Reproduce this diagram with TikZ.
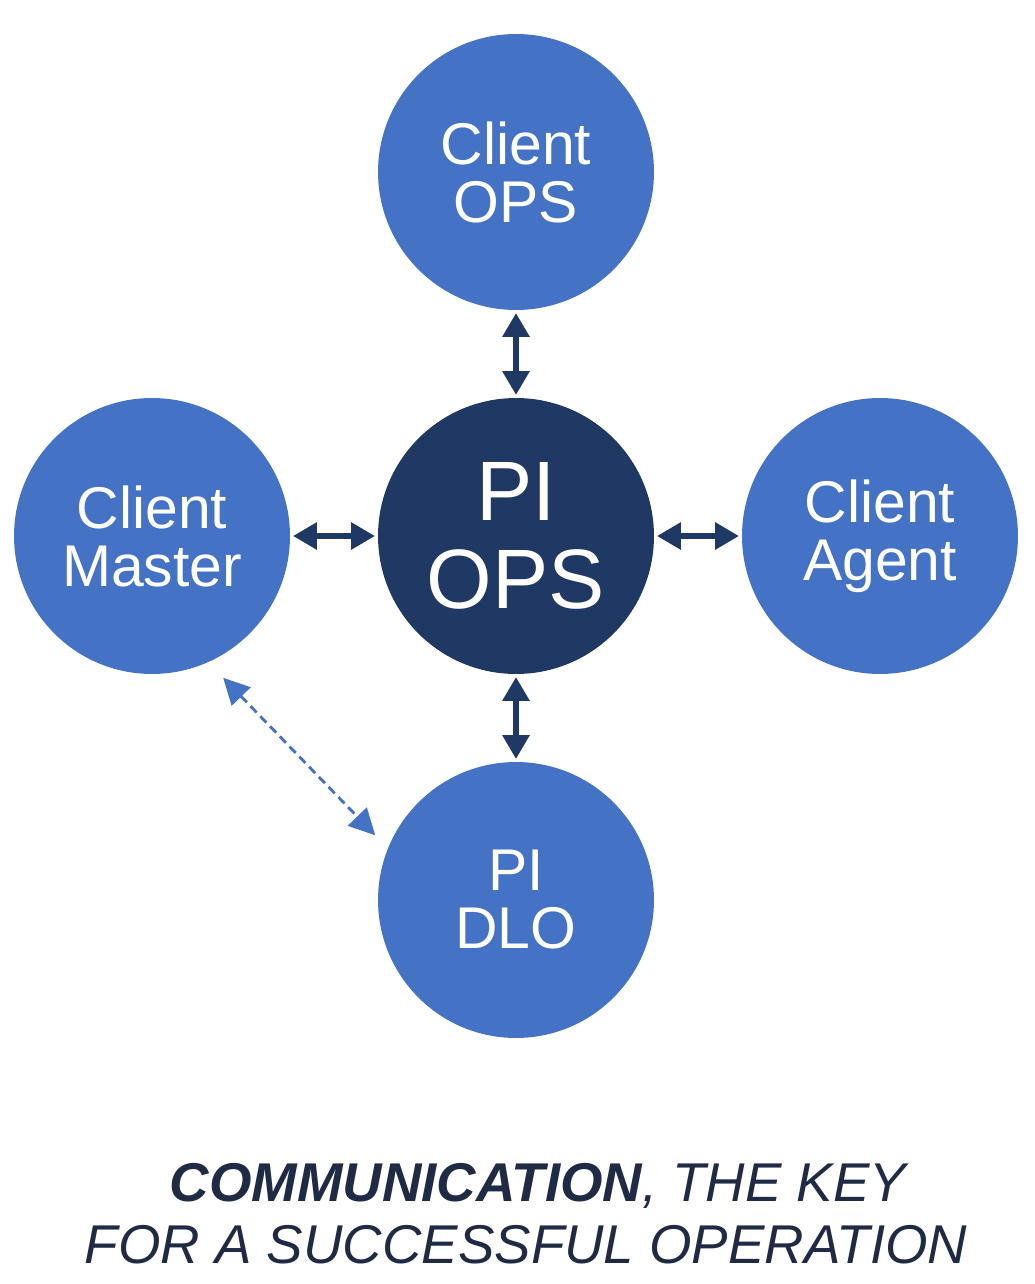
\documentclass[tikz,border=0pt]{standalone}
\usepackage{fontspec}
\setmainfont{Liberation Sans}
\usetikzlibrary{arrows.meta, calc}
\definecolor{NodeBlue}{RGB}{68, 114, 196}
\definecolor{NodeNavy}{RGB}{32, 56, 100}
\definecolor{CaptionNavy}{RGB}{31, 43, 69}

\begin{document}
\begin{tikzpicture}[x=0.02cm, y=-0.02cm,
    party/.style={circle, fill=NodeBlue, minimum size=5.52cm, inner sep=0pt,
      text=white, align=center, font=\fontsize{33.5}{33}\selectfont},
    hub/.style={party, fill=NodeNavy, font=\fontsize{48}{50}\selectfont},
    link/.style={NodeNavy, line width=3.4pt,
      {Triangle[length=0.48cm, width=0.52cm]}-{Triangle[length=0.48cm, width=0.52cm]},
      shorten <=1.5pt, shorten >=1.5pt},
    sidelink/.style={NodeBlue, line width=1.6pt, dash pattern=on 5pt off 3pt,
      {Triangle[length=0.52cm, width=0.52cm]}-{Triangle[length=0.52cm, width=0.52cm]}},
    caption/.style={CaptionNavy, anchor=base, font=\fontsize{31.1}{34}\selectfont\itshape}]
    \useasboundingbox (0,0) rectangle (1034,1284);

    % Circles
    \node[hub] (piops) at (516,536) {PI\\OPS};
    \node[party] (clientops) at (516,172) {Client\\OPS};
    \node[party] (master) at (152,536) {Client\\Master};
    \node[party] (agent) at (880,536) {Client\\Agent};
    \node[party] (dlo) at (516,900) {PI\\DLO};

    % Links to the hub
    \draw[link] (clientops) -- (piops);
    \draw[link] (master) -- (piops);
    \draw[link] (piops) -- (agent);
    \draw[link] (piops) -- (dlo);

    % Dashed link
    \draw[sidelink, shorten <=0.43cm, shorten >=0.36cm] (master.-66) -- (dlo.158);

    % Caption
    \node[caption] (capone) at (538,1201) {\bfseries COMMUNICATION\mdseries, THE KEY};
    \node[caption] (captwo) at (526,1263) {FOR A SUCCESSFUL OPERATION};
  \end{tikzpicture}
\end{document}
